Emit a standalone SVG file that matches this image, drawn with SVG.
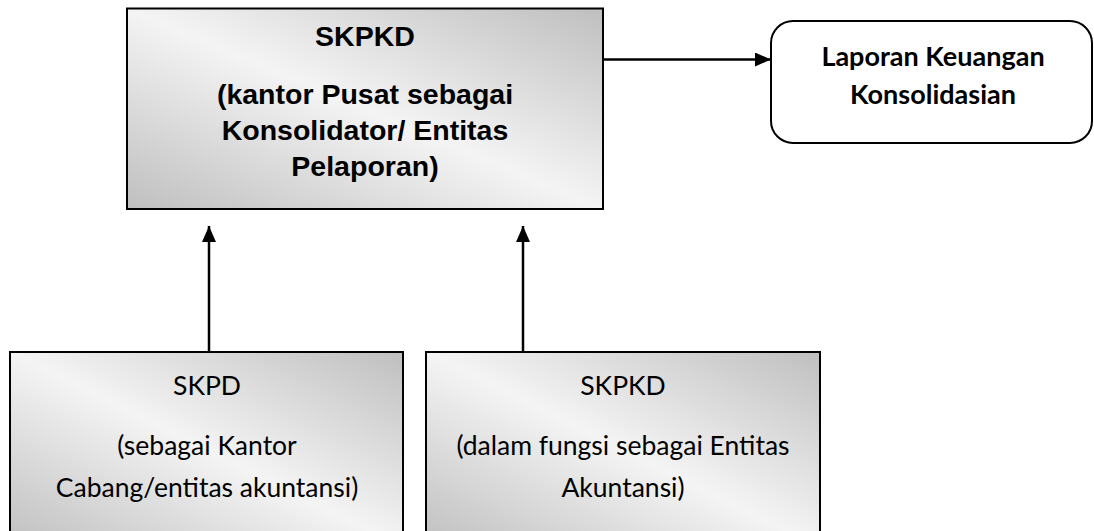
<svg xmlns="http://www.w3.org/2000/svg" width="1094" height="531" viewBox="0 0 1094 531">
<defs>
<linearGradient id="g" x1="1" y1="0" x2="0" y2="1">
<stop offset="0" stop-color="#bfbfbf"/>
<stop offset="0.5" stop-color="#f4f4f4"/>
<stop offset="1" stop-color="#bfbfbf"/>
</linearGradient>
<marker id="ah" viewBox="0 0 16 14" refX="16" refY="7" markerWidth="16" markerHeight="14" markerUnits="userSpaceOnUse" orient="auto">
<path d="M0,0 L16,7 L0,14 Z" fill="#000"/>
</marker>
<style>
.box{fill:url(#g);stroke:#000;stroke-width:2}
.rbox{fill:#fff;stroke:#000;stroke-width:2}
.tb{font-family:"Liberation Sans",Arial,sans-serif;font-weight:bold;font-size:28.5px;fill:#000;text-anchor:middle}
.tc{font-family:Lato,"Open Sans",sans-serif;font-size:26.5px;fill:#000;text-anchor:middle}
.tcb{font-family:Lato,"Open Sans",sans-serif;font-weight:bold;font-size:27px;fill:#000;text-anchor:middle}
.conn{stroke:#000;stroke-width:2.5;fill:none;marker-end:url(#ah)}
</style>
</defs>
<g id="connectors">
<line class="conn" x1="599" y1="59.5" x2="771" y2="59.5"/>
<line class="conn" x1="209" y1="352" x2="209" y2="226"/>
<line class="conn" x1="523" y1="352" x2="523" y2="226"/>
</g>
<g id="skpkd-pusat">
<rect class="box" x="127" y="8.5" width="476" height="200.5"/>
<text class="tb" x="365" y="46">SKPKD</text>
<text class="tb" x="365" y="104">(kantor Pusat sebagai</text>
<text class="tb" x="365" y="140">Konsolidator/ Entitas</text>
<text class="tb" x="365" y="176">Pelaporan)</text>
</g>
<g id="laporan">
<rect class="rbox" x="771" y="21" width="321" height="122" rx="22" ry="22"/>
<text class="tcb" x="933" y="66">Laporan Keuangan</text>
<text class="tcb" x="933" y="104">Konsolidasian</text>
</g>
<g id="skpd">
<rect class="box" x="10" y="352" width="393" height="195"/>
<text class="tc" x="207" y="395">SKPD</text>
<text class="tc" x="207" y="455">(sebagai Kantor</text>
<text class="tc" x="207" y="497">Cabang/entitas akuntansi)</text>
</g>
<g id="skpkd-akuntansi">
<rect class="box" x="426" y="352" width="394" height="195"/>
<text class="tc" x="623" y="395">SKPKD</text>
<text class="tc" x="623" y="455">(dalam fungsi sebagai Entitas</text>
<text class="tc" x="623" y="497">Akuntansi)</text>
</g>
</svg>
